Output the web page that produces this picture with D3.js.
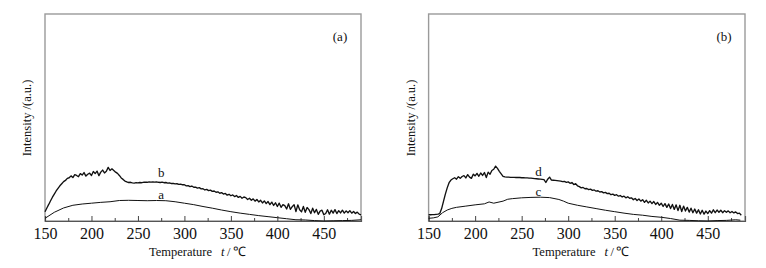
<!DOCTYPE html>
<html>
<head>
<meta charset="utf-8">
<script src="https://cdn.jsdelivr.net/npm/d3@7"></script>
<style>
  body { margin: 0; background: #fff; }
  text { font-family: "Liberation Serif", "Times New Roman", serif; fill: #111; }
</style>
</head>
<body>
<script>
// x tick values shared by both panels
const majorTicks = [150, 200, 250, 300, 350, 400, 450];
const minorTicks = [175, 225, 275, 325, 375, 425, 475];

// panel (a), curve b: one reading every 2 C starting at 150
const valuesB = [
  4.5, 6.3, 8.0, 9.8, 11.5, 13.0, 14.5, 15.8, 17.0, 18.0, 19.0,
  19.6, 20.6, 20.9, 21.8, 21.0, 22.4, 22.0, 21.4, 22.9, 22.2, 23.4, 21.7, 22.6, 23.1, 22.0, 23.9, 22.9, 24.1, 21.9, 23.6,
  24.6, 23.2, 24.0, 25.9, 24.4, 25.2, 24.4, 23.6, 23.0, 22.0, 20.8, 20.1, 19.3, 18.9, 18.6,
  18.7, 18.4, 18.3, 18.5, 18.4, 18.6, 18.5, 18.7, 18.8, 18.7, 18.9, 18.8, 18.9, 18.8, 18.9, 18.7, 18.6, 18.8, 18.5, 18.6,
  18.3, 18.4, 18.1, 18.2, 17.9, 18.0, 17.7, 17.8, 17.5, 17.5,
  17.0, 17.1, 16.6, 16.9, 16.3, 16.4, 15.9, 16.1, 15.5, 15.6, 15.0, 15.3, 14.7, 14.9, 14.3, 14.5, 13.9, 14.1, 13.4, 13.7,
  13.0, 13.3, 12.5, 12.9, 12.2,
  12.6, 11.8, 12.3, 11.4, 11.9, 11.0, 11.6, 11.3, 10.4, 11.0, 10.0, 10.7, 9.6, 10.4, 9.2, 10.0, 8.7, 9.7, 8.4, 9.4,
  7.9, 9.1, 7.5, 8.8, 7.0,
  8.6, 6.6, 7.9, 7.4, 5.8, 8.3, 5.6, 6.9, 7.9, 4.6, 7.8, 5.4, 4.4, 7.0, 4.2, 6.5, 5.5, 3.6, 6.2, 4.0,
  5.6, 3.2, 4.8, 5.2, 3.0,
  3.6, 5.4, 3.3, 5.2, 3.8, 5.5, 3.6, 5.0, 3.9, 5.2, 3.8, 4.9, 4.0, 5.0, 3.8, 4.6, 3.6, 4.3, 3.3, 3.0
];
const tempsB = d3.range(150, 150 + 2 * valuesB.length, 2);

// panel (a), curve a
const tempsA = [150, 160, 170, 180, 190, 200, 210, 220, 230, 240, 250, 260, 270, 280, 290, 300, 310, 320, 330, 340,
  350, 360, 370, 380, 390, 400, 410, 420, 430, 440, 450, 460, 470, 480, 490];
const valuesA = [1.3, 4.2, 6.3, 7.6, 8.2, 8.6, 9.0, 9.3, 9.9, 10.0, 9.9, 9.8, 9.9, 9.8, 9.3, 8.6, 7.9, 7.0, 6.2, 5.3,
  4.5, 3.8, 3.2, 2.6, 2.1, 1.6, 1.1, 0.6, 0.5, 0.2, 0.0, 0.1, 0.2, 0.3, 0.6];

// panel (b), curve d: one reading every 2 C starting at 150
const valuesD = [
  3.0, 3.0, 3.1, 3.1, 3.2, 3.3, 3.6,
  6.0, 9.5, 13.0, 16.0, 18.5, 19.8, 20.4, 20.9, 20.2, 21.4, 20.6, 21.5, 21.9, 20.8, 22.4, 21.2, 20.6, 22.6, 21.8, 23.0,
  21.6, 23.2, 22.0, 23.4, 21.0, 23.6, 22.6, 24.4, 25.0, 26.5, 25.4, 24.0, 22.8, 21.6, 21.3,
  21.2, 21.2, 21.1, 21.1, 21.1, 21.0, 21.0, 21.0, 20.9, 20.9, 20.8, 20.8, 20.7, 20.7, 20.6, 20.5, 20.4, 20.3, 20.2, 20.1,
  20.0, 18.6, 20.2, 21.2, 19.8, 19.7, 19.6, 19.5, 19.4, 19.3, 19.0, 19.1, 18.7, 18.9,
  18.2, 18.6, 17.6, 18.0, 17.0, 16.6, 16.0, 16.2, 15.6, 15.7, 15.2, 15.4, 14.8, 15.0, 14.4, 14.6, 14.0, 14.2, 13.6, 13.8,
  13.2, 13.4, 12.7, 13.0, 12.4,
  12.7, 12.0, 12.3, 11.6, 12.0, 11.2, 11.7, 11.0, 11.2, 10.3, 10.9, 9.9, 10.6, 9.6, 10.3, 9.0, 10.0, 8.7, 9.6, 8.4,
  9.4, 8.0, 9.0, 7.6, 8.6,
  7.0, 8.4, 6.6, 8.2, 6.0, 8.0, 5.6, 7.8, 5.0, 7.6, 4.6, 7.2, 4.8, 6.6, 4.3, 6.2, 4.0, 5.8, 3.8, 5.4,
  3.4, 5.2, 3.3, 4.8, 3.6,
  5.0, 3.8, 5.4, 4.0, 5.3, 4.2, 5.2, 4.0, 5.0, 4.2, 4.9, 4.0, 4.6, 3.9, 4.4, 3.6, 3.8, 2.8
];
const tempsD = d3.range(150, 150 + 2 * valuesD.length, 2);

// panel (b), curve c
const tempsC = [150, 155, 160, 165, 170, 175, 180, 190, 200, 210, 215, 220, 230, 235, 240, 250, 260, 270, 280, 290,
  295, 300, 310, 320, 330, 340, 350, 360, 370, 380, 390, 400, 410, 420, 430, 440, 450, 460, 470, 480, 485];
const valuesC = [1.3, 1.5, 2.0, 4.0, 5.3, 6.1, 6.6, 7.2, 7.8, 8.3, 9.2, 8.6, 9.6, 10.5, 10.8, 11.2, 11.4, 11.5, 11.3, 10.4,
  9.6, 8.6, 7.6, 6.8, 6.0, 5.2, 4.5, 3.8, 3.2, 2.8, 2.2, 1.8, 1.2, 0.4, 0.3, 0.1, 0.0, 0.2, 0.3, 0.6, 0.4];

const panels = [
  { left: 45, right: 361, tag: "(a)",
    series: [
      { t: tempsB, v: valuesB, name: "b", w: 1.35, at: 275, lift: 2.4 },
      { t: tempsA, v: valuesA, name: "a", w: 1, at: 275, lift: 0.8 }
    ] },
  { left: 428.6, right: 745, tag: "(b)",
    series: [
      { t: tempsD, v: valuesD, name: "d", w: 1.35, at: 268, lift: 1.2 },
      { t: tempsC, v: valuesC, name: "c", w: 1, at: 268, lift: 0.4 }
    ] }
];

const plotTop = 14, plotBottom = 221;

const svg = d3.select("body").append("svg")
  .attr("width", 766)
  .attr("height", 268);

panels.forEach(function (p) {
  const x = d3.scaleLinear().domain([150, 490]).range([p.left, p.right]);
  const y = d3.scaleLinear().domain([0, 100]).range([plotBottom, plotTop]);
  const g = svg.append("g");

  // frame
  g.append("rect")
    .attr("x", p.left).attr("y", plotTop)
    .attr("width", p.right - p.left).attr("height", plotBottom - plotTop)
    .attr("fill", "none").attr("stroke", "#9a9a9a").attr("stroke-width", 1.4);

  // minor ticks, pointing inward
  g.append("g")
    .attr("transform", "translate(0," + plotBottom + ")")
    .call(d3.axisBottom(x).tickValues(minorTicks).tickSize(-3).tickFormat(""))
    .call(function (a) { a.select(".domain").remove(); })
    .selectAll("line").attr("stroke", "#444");

  // major ticks with labels
  const xAxis = g.append("g")
    .attr("transform", "translate(0," + plotBottom + ")")
    .call(d3.axisBottom(x).tickValues(majorTicks).tickSize(-5).tickPadding(7).tickFormat(d3.format("d")));
  xAxis.select(".domain").attr("stroke", "#555").attr("stroke-width", 1.2);
  xAxis.selectAll("line").attr("stroke", "#444");
  xAxis.selectAll("text")
    .style("font-family", "'Liberation Serif', serif")
    .style("font-size", "16px")
    .attr("fill", "#111");

  // curves
  const line = d3.line()
    .x(function (d) { return x(d[0]); })
    .y(function (d) { return y(d[1]); });

  p.series.forEach(function (s) {
    const pts = s.t.map(function (t, i) { return [t, s.v[i]]; });
    g.append("path")
      .datum(pts)
      .attr("d", line)
      .attr("fill", "none")
      .attr("stroke", "#111")
      .attr("stroke-width", s.w)
      .attr("stroke-linejoin", "round");

    const idx = d3.bisectLeft(s.t, s.at);
    g.append("text")
      .attr("x", x(s.at))
      .attr("y", y(s.v[Math.min(idx, s.v.length - 1)] + s.lift))
      .attr("text-anchor", "middle")
      .style("font-size", "13px")
      .text(s.name);
  });

  // panel tag
  g.append("text")
    .attr("x", p.right - 21)
    .attr("y", 41)
    .attr("text-anchor", "middle")
    .style("font-size", "13px")
    .text(p.tag);

  // x title
  g.append("text")
    .attr("x", p.left + 104)
    .attr("y", 256)
    .style("font-size", "12.5px")
    .text("Temperature");
  g.append("text")
    .attr("x", p.left + 176)
    .attr("y", 256)
    .style("font-size", "12.5px")
    .style("font-style", "italic")
    .text("t");
  g.append("text")
    .attr("x", p.left + 182)
    .attr("y", 256)
    .style("font-size", "12.5px")
    .text("/");
  g.append("text")
    .attr("x", p.left + 187.5)
    .attr("y", 256)
    .style("font-size", "13px")
    .text("℃");

  // y title
  g.append("text")
    .attr("transform", "translate(" + (p.left - 14) + ",118) rotate(-90)")
    .attr("text-anchor", "middle")
    .style("font-size", "12.5px")
    .text("Intensity /(a.u.)");
});
</script>
</body>
</html>
